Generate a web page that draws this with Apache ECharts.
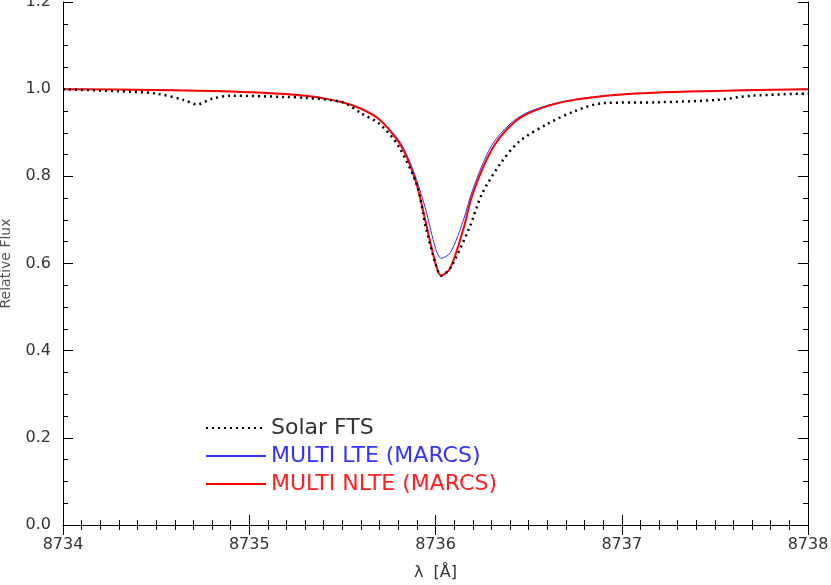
<!DOCTYPE html>
<html><head><meta charset="utf-8">
<script src="https://cdn.jsdelivr.net/npm/echarts@6/dist/echarts.min.js"></script>
<style>html,body{margin:0;background:#fff}#c{width:831px;height:585px}</style>
</head><body><div id="c"></div>
<script>
var ftsX = [8734.0, 8734.3, 8734.5, 8734.65, 8734.72, 8734.8, 8734.9, 8735.2, 8735.3, 8735.5, 8735.6, 8735.7, 8735.8, 8735.9, 8735.95, 8736.0, 8736.03, 8736.08, 8736.18, 8736.25, 8736.35, 8736.45, 8736.6, 8736.75, 8736.9, 8737.2, 8737.5, 8737.7, 8738.0];
var ftsY = [1.0, 0.995, 0.99, 0.975, 0.965, 0.978, 0.985, 0.982, 0.98, 0.97, 0.945, 0.92, 0.87, 0.78, 0.68, 0.60, 0.572, 0.59, 0.68, 0.76, 0.83, 0.88, 0.92, 0.95, 0.968, 0.97, 0.975, 0.985, 0.99];
var nlteX = [8734.0, 8734.5, 8735.0, 8735.3, 8735.5, 8735.6, 8735.7, 8735.8, 8735.85, 8735.9, 8735.95, 8736.0, 8736.03, 8736.08, 8736.15, 8736.2, 8736.3, 8736.4, 8736.5, 8736.7, 8737.0, 8737.5, 8738.0];
var nlteY = [1.0, 0.998, 0.993, 0.985, 0.97, 0.955, 0.93, 0.88, 0.84, 0.78, 0.69, 0.60, 0.572, 0.59, 0.68, 0.76, 0.86, 0.915, 0.945, 0.972, 0.988, 0.996, 1.0];
var lteY = [1.0, 0.998, 0.993, 0.985, 0.97, 0.955, 0.93, 0.885, 0.845, 0.79, 0.72, 0.635, 0.612, 0.625, 0.70, 0.77, 0.87, 0.92, 0.948, 0.973, 0.988, 0.996, 1.0];
var seriesNames = ['Solar FTS', 'MULTI LTE (MARCS)', 'MULTI NLTE (MARCS)'];

function pairs(xs, ys) { return xs.map(function (x, i) { return [x, ys[i]]; }); }

var chart = echarts.init(document.getElementById('c'));
var font = 'DejaVu Sans';
var axLine = { show: true, lineStyle: { color: '#000', width: 1 } };
function xAxisDef(pos, show) {
	return {
		type: 'value', position: pos, min: 8734, max: 8738, interval: 1,
		axisLine: axLine, splitLine: { show: false },
		axisTick: { inside: true, length: 10, lineStyle: { color: '#000' } },
		minorTick: { show: true, splitNumber: 10, length: 5, lineStyle: { color: '#000' } },
		axisLabel: { show: show, color: '#333', fontFamily: font, fontSize: 16, margin: 12,
			formatter: function (v) { return String(v); } },
		name: show ? 'λ  [Å]' : '', nameLocation: 'middle', nameGap: 40,
		nameTextStyle: { color: '#333', fontFamily: font, fontSize: 16 }
	};
}
function yAxisDef(pos, show) {
	return {
		type: 'value', position: pos, min: 0, max: 1.2, interval: 0.2,
		axisLine: axLine, splitLine: { show: false },
		axisTick: { inside: true, length: 10, lineStyle: { color: '#000' } },
		minorTick: { show: true, splitNumber: 4, length: 5, lineStyle: { color: '#000' } },
		axisLabel: { show: show, color: '#333', fontFamily: font, fontSize: 16, margin: 12,
			formatter: function (v) { return v.toFixed(1); } },
		name: show ? 'Relative Flux' : '', nameLocation: 'middle', nameGap: 50,
		nameTextStyle: { color: '#555', fontFamily: font, fontSize: 14 }
	};
}
chart.setOption({
	animation: false,
	grid: { left: 63, right: 23, top: 2, bottom: 60, outerBoundsMode: 'none', containLabel: false },
	xAxis: [xAxisDef('bottom', true), xAxisDef('top', false)],
	yAxis: [yAxisDef('left', true), yAxisDef('right', false)],
	legend: {
		orient: 'vertical', left: 200, top: 412, itemWidth: 60, itemGap: 6,
		itemStyle: { opacity: 0 },
		textStyle: { fontFamily: font, fontSize: 22 },
		data: [
			{ name: seriesNames[0], textStyle: { color: '#333' } },
			{ name: seriesNames[1], textStyle: { color: '#3333ff' } },
			{ name: seriesNames[2], textStyle: { color: '#ff2020' } }
		]
	},
	series: [
		{ name: seriesNames[0], type: 'line', smooth: 0.3, showSymbol: false, symbol: 'none', z: 5,
			data: pairs(ftsX, ftsY), lineStyle: { color: '#000', width: 2.5, type: [2, 4] }, itemStyle: { color: '#000' } },
		{ name: seriesNames[1], type: 'line', smooth: 0.3, showSymbol: false, symbol: 'none', z: 3,
			data: pairs(nlteX, lteY), lineStyle: { color: '#3333ff', width: 1 }, itemStyle: { color: '#3333ff' } },
		{ name: seriesNames[2], type: 'line', smooth: 0.3, showSymbol: false, symbol: 'none', z: 4,
			data: pairs(nlteX, nlteY), lineStyle: { color: '#ff0000', width: 2 }, itemStyle: { color: '#ff0000' } }
	]
});
</script></body></html>
